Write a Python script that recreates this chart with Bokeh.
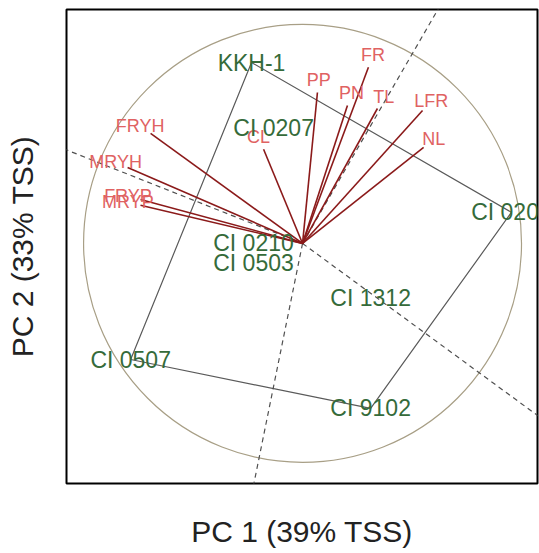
import numpy as np
from bokeh.plotting import figure
from bokeh.models import ColumnDataSource, Range1d, FixedTicker
from bokeh.core.properties import value
from bokeh.embed import file_html
from bokeh.resources import INLINE

# ---- data (PCA biplot, circle radius = 1) ----
cultivars = ["KKH-1", "CI 0207", "CI 0210", "CI 0503", "CI 1312", "CI 0507", "CI 9102", "CI 0206"]
cult_pc1 = [-0.233, -0.132, -0.224, -0.224, 0.311, -0.785, 0.311, 0.954]
cult_pc2 = [0.826, 0.525, 0.000, -0.091, -0.251, -0.530, -0.753, 0.142]

variables = ["PP", "FR", "PN", "TL", "LFR", "NL", "FRYH", "MRYH", "FRYP", "MRYP", "CL"]
var_pc1 = [0.068, 0.301, 0.205, 0.342, 0.548, 0.553, -0.694, -0.799, -0.740, -0.740, -0.178]
var_pc2 = [0.689, 0.804, 0.630, 0.616, 0.607, 0.438, 0.502, 0.347, 0.201, 0.174, 0.430]

# dashed reference directions
ref_pc1 = [0.621, -0.224, 1.055, -1.073]
ref_pc2 = [1.073, -1.105, -0.772, 0.425]

x_label = "PC 1 (39% TSS)"
y_label = "PC 2 (33% TSS)"

FONT = "Liberation Sans"

p = figure(width=539, height=553, output_backend="svg", toolbar_location=None,
           x_range=Range1d(-1.078, 1.073), y_range=Range1d(-1.096, 1.068),
           min_border_left=66, min_border_right=2, min_border_top=9, min_border_bottom=70)
p.grid.visible = False
p.outline_line_color = "black"
p.outline_line_width = 2
p.background_fill_color = "white"
p.border_fill_color = "white"

for ax in (p.xaxis[0], p.yaxis[0]):
    ax.ticker = FixedTicker(ticks=[])
    ax.axis_line_color = None
    ax.major_tick_line_color = None
    ax.minor_tick_line_color = None
    ax.major_tick_out = 0
    ax.major_tick_in = 0
    ax.major_label_standoff = 0
    ax.major_label_text_font_size = "0px"
    ax.axis_label_text_font = FONT
    ax.axis_label_text_font_size = "30px"
    ax.axis_label_text_font_style = "normal"
    ax.axis_label_text_color = "#222222"
p.xaxis.axis_label = x_label
p.yaxis.axis_label = y_label
p.xaxis.axis_label_standoff = 31
p.yaxis.axis_label_standoff = 28

# correlation circle
p.circle(x=[0], y=[0], radius=1, fill_color=None, line_color="#A89F86", line_width=1.2)

# convex hull of the cultivar scores
pts = sorted(zip(cult_pc1, cult_pc2))
def cross(o, a, b):
    return (a[0] - o[0]) * (b[1] - o[1]) - (a[1] - o[1]) * (b[0] - o[0])
lower, upper = [], []
for pt in pts:
    while len(lower) >= 2 and cross(lower[-2], lower[-1], pt) <= 0:
        lower.pop()
    lower.append(pt)
for pt in reversed(pts):
    while len(upper) >= 2 and cross(upper[-2], upper[-1], pt) <= 0:
        upper.pop()
    upper.append(pt)
hull = lower[:-1] + upper[:-1]
hull.append(hull[0])
p.line(x=[h[0] for h in hull], y=[h[1] for h in hull], line_color="#5A5A5A", line_width=1.2)

# dashed reference rays
rx = np.array(ref_pc1) * 1.5
ry = np.array(ref_pc2) * 1.5
p.segment(x0=[0] * len(rx), y0=[0] * len(rx), x1=rx, y1=ry,
          line_color="#505050", line_width=1.2, line_dash="5 4")

# variable arrows
vx = np.array(var_pc1)
vy = np.array(var_pc2)
p.segment(x0=np.zeros_like(vx), y0=np.zeros_like(vy), x1=vx, y1=vy,
          line_color="#8B1A1A", line_width=1.6)

norm = np.hypot(vx, vy)
ux, uy = vx / norm, vy / norm
off = 13.0
var_src = ColumnDataSource(dict(x=vx, y=vy, t=variables, xo=ux * off, yo=-uy * off))
p.text(x="x", y="y", text="t", x_offset="xo", y_offset="yo", source=var_src,
       text_font=value(FONT), text_font_size="18px", text_color="#E06262",
       text_align="center", text_baseline="middle")

cult_src = ColumnDataSource(dict(x=cult_pc1, y=cult_pc2, t=cultivars))
p.text(x="x", y="y", text="t", source=cult_src,
       text_font=value(FONT), text_font_size="23px", text_color="#356B3A",
       text_align="center", text_baseline="middle")

open("out.html", "w").write(file_html(p, INLINE))
